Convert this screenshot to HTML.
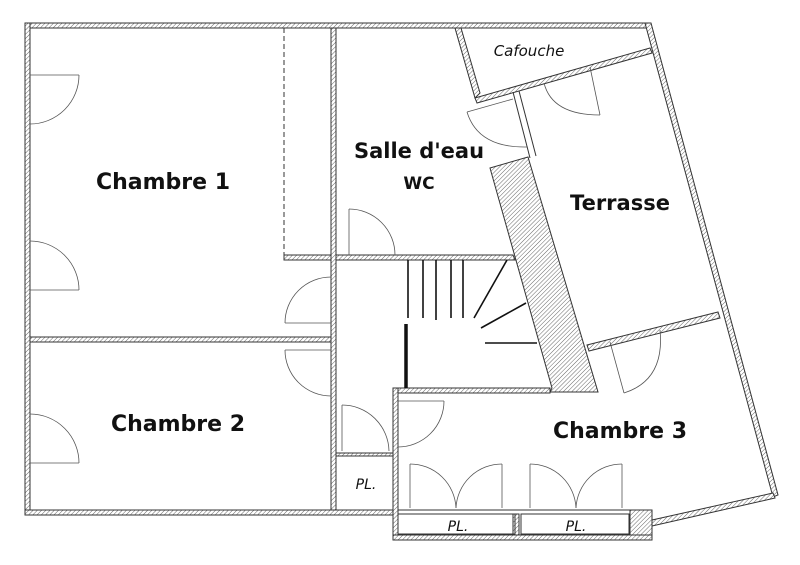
<!DOCTYPE html>
<html><head><meta charset="utf-8"><style>
html,body{margin:0;padding:0;background:#fff;width:800px;height:565px;overflow:hidden}
svg{display:block}
.b{font-family:"DejaVu Sans","Liberation Sans",sans-serif;font-weight:bold;fill:#111;text-anchor:middle}
.i{font-family:"DejaVu Sans","Liberation Sans",sans-serif;font-style:italic;fill:#111;text-anchor:middle}
</style></head><body>
<svg width="800" height="565" viewBox="0 0 800 565" xmlns="http://www.w3.org/2000/svg">
<defs>
<pattern id="h" width="3" height="3" patternUnits="userSpaceOnUse" patternTransform="rotate(45)">
<rect width="3" height="3" fill="#fff"/><line x1="0" y1="0" x2="0" y2="3" stroke="#666" stroke-width="1"/>
</pattern>
</defs>
<g fill="url(#h)" stroke="#333" stroke-width="1">
<polygon points="25,23 645,23 647,28 25,28"/>
<rect x="25" y="23" width="5" height="492"/>
<rect x="25" y="510" width="370" height="5"/>
<rect x="331" y="28" width="5" height="482"/>
<rect x="30" y="337" width="301" height="5"/>
<rect x="284" y="255" width="47" height="5"/>
<polygon points="336,255 513,255 515,260 336,260"/>
<polygon points="455,28 461,28 480,93 475,98"/>
<polygon points="475,98 650,48 652,53 477,103"/>
<polygon points="645,23 651,23 778,495 773,497"/>
<polygon points="652,520 773,493 775,498 652,526"/>
<polygon points="490,168 528,157 598,392 550,392 552,388"/>
<polygon points="587,345 718,312 720,318 589,351"/>
<rect x="393" y="388" width="157" height="5"/>
<rect x="393" y="388" width="5" height="152"/>
<rect x="630" y="510" width="22" height="30"/>
<rect x="393" y="535" width="259" height="5"/>
<rect x="513" y="514" width="6" height="21"/>
<rect x="336" y="453" width="57" height="3"/>
</g>
<g fill="none" stroke="#333" stroke-width="1">
<line x1="513" y1="92" x2="530" y2="158"/>
<line x1="519" y1="91" x2="536" y2="156"/>
<rect x="398" y="514" width="117" height="20"/>
<rect x="521" y="514" width="108" height="20"/>
<line x1="398" y1="510" x2="630" y2="510"/>
<line x1="284" y1="28" x2="284" y2="258" stroke-dasharray="5,3"/>
</g>
<g fill="none" stroke="#555" stroke-width="0.8">
<line x1="30" y1="75" x2="79" y2="75"/><path d="M79,75 A49,49 0 0,1 30,124"/>
<line x1="30" y1="290" x2="79" y2="290"/><path d="M30,241 A49,49 0 0,1 79,290"/>
<line x1="30" y1="463" x2="79" y2="463"/><path d="M30,414 A49,49 0 0,1 79,463"/>
<line x1="285" y1="323" x2="331" y2="323"/><path d="M285,323 A46,46 0 0,1 331,277"/>
<line x1="285" y1="350" x2="331" y2="350"/><path d="M285,350 A46,46 0 0,0 331,396"/>
<line x1="349" y1="255" x2="349" y2="209"/><path d="M349,209 A46,46 0 0,1 395,255"/>
<line x1="342" y1="451" x2="342" y2="405"/><path d="M342,405 A47,47 0 0,1 389,451"/>
<line x1="398" y1="401" x2="444" y2="401"/><path d="M444,401 A46,46 0 0,1 398,447"/>
<line x1="410" y1="464" x2="410" y2="508"/><path d="M410,464 A46,46 0 0,1 456,508"/>
<line x1="502" y1="464" x2="502" y2="508"/><path d="M502,464 A46,46 0 0,0 456,508"/>
<line x1="530" y1="464" x2="530" y2="508"/><path d="M530,464 A46,46 0 0,1 576,508"/>
<line x1="622" y1="464" x2="622" y2="508"/><path d="M622,464 A46,46 0 0,0 576,508"/>
<line x1="467" y1="112" x2="513" y2="99"/><path d="M467,112 Q478,148 527,147"/>
<line x1="590" y1="67" x2="600" y2="115"/><path d="M544,83 Q552,115 600,115"/>
<line x1="610" y1="342" x2="624" y2="393"/><path d="M660,330 Q665,380 624,393"/>
</g>
<g stroke="#111" stroke-width="1.6">
<line x1="408" y1="260" x2="408" y2="318"/>
<line x1="423" y1="260" x2="423" y2="318"/>
<line x1="436" y1="260" x2="436" y2="320"/>
<line x1="451" y1="260" x2="451" y2="318"/>
<line x1="463" y1="260" x2="463" y2="318"/>
<line x1="474" y1="318" x2="507" y2="260"/>
<line x1="481" y1="328" x2="526" y2="303"/>
<line x1="485" y1="343" x2="537" y2="343"/>
<line x1="406" y1="324" x2="406" y2="388" stroke-width="3.5"/>
</g>
<text class="b" x="163" y="189" font-size="22">Chambre 1</text>
<text class="b" x="419" y="158" font-size="21">Salle d'eau</text>
<text class="b" x="419" y="189" font-size="17">WC</text>
<text class="b" x="620" y="210" font-size="21">Terrasse</text>
<text class="b" x="178" y="431" font-size="22">Chambre 2</text>
<text class="b" x="620" y="438" font-size="22">Chambre 3</text>
<text class="i" x="529" y="56" font-size="15">Cafouche</text>
<text class="i" x="366" y="489" font-size="14">PL.</text>
<text class="i" x="458" y="531" font-size="14">PL.</text>
<text class="i" x="576" y="531" font-size="14">PL.</text>
</svg>
</body></html>
